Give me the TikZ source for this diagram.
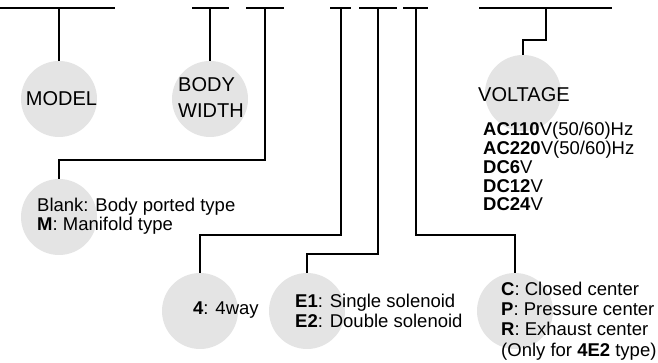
\documentclass[tikz,border=0pt]{standalone}
\usepackage{fontspec}
\setmainfont{Liberation Sans}
\definecolor{discgray}{HTML}{E4E4E4}
\begin{document}
\begin{tikzpicture}[x=1pt,y=-1pt,
  conn/.style={draw=black, line width=1.3pt},
  disc/.style={circle, fill=discgray, minimum size=76pt, inner sep=0pt},
  bigtxt/.style={font=\fontsize{20}{26}\selectfont, align=left, inner sep=0pt},
  smalltxt/.style={font=\fontsize{18.5}{19}\selectfont, align=left, inner sep=0pt, anchor=north west},
]
\useasboundingbox (0,0) rectangle (658,363);
% discs
\node[disc] (cModel) at (59,99) {};
\node[disc] (cBody) at (210,99) {};
\node[disc] (cPort) at (59,217) {};
\node[disc] (cWay) at (200,311) {};
\node[disc] (cSol) at (307,311) {};
\node[disc] (cCent) at (515,311) {};
\node[disc] (cVolt) at (523,93) {};
% top bars
\coordinate (b1) at (59,8);
\coordinate (b2) at (210,8);
\coordinate (b3) at (265,8);
\coordinate (b4) at (341,8);
\coordinate (b5) at (378,8);
\coordinate (b6) at (416,8);
\coordinate (b7) at (546,8);
\draw[conn] (0,8) -- (115,8);
\draw[conn] (192,8) -- (229,8);
\draw[conn] (246,8) -- (284,8);
\draw[conn] (330,8) -- (351,8);
\draw[conn] (359,8) -- (397,8);
\draw[conn] (403,8) -- (428,8);
\draw[conn] (479,8) -- (612,8);
% connectors
\draw[conn] (b1) -- (cModel.north);
\draw[conn] (b2) -- (cBody.north);
\draw[conn] (b3) -- ++(0,152) -| (cPort.north);
\draw[conn] (b4) -- ++(0,227) -| (cWay.north);
\draw[conn] (b5) -- ++(0,246) -| (cSol.north);
\draw[conn] (b6) -- ++(0,227) -| (cCent.north);
\draw[conn] (b7) -- ++(0,32) -| (cVolt.north);
% texts
\node[bigtxt, anchor=base] (tModel) at (61.5,106) {MODEL};
\node[bigtxt, anchor=north west] (tBody) at (178,77.7) {BODY\\WIDTH};
\node[bigtxt, anchor=base west] (tVolt) at (478,102) {VOLTAGE};
\node[smalltxt, font=\fontsize{18.5}{18.8}\selectfont] (tVlist) at (483,122) {\textbf{AC110}V(50/60)Hz\\\textbf{AC220}V(50/60)Hz\\\textbf{DC6}V\\\textbf{DC12}V\\\textbf{DC24}V};
\node[smalltxt] (tPort) at (37,197.5) {Blank: Body ported type\\\textbf{M}: Manifold type};
\node[smalltxt] (tWay) at (193,301.5) {\textbf{4}: 4way};
\node[smalltxt, font=\fontsize{18.5}{20}\selectfont] (tSol) at (295,293.5) {\textbf{E1}: Single solenoid\\\textbf{E2}: Double solenoid};
\node[smalltxt, font=\fontsize{18.5}{20.3}\selectfont] (tCent) at (501,281.5) {\textbf{C}: Closed center\\\textbf{P}: Pressure center\\\textbf{R}: Exhaust center\\(Only for \textbf{4E2} type)};
\end{tikzpicture}
\end{document}
